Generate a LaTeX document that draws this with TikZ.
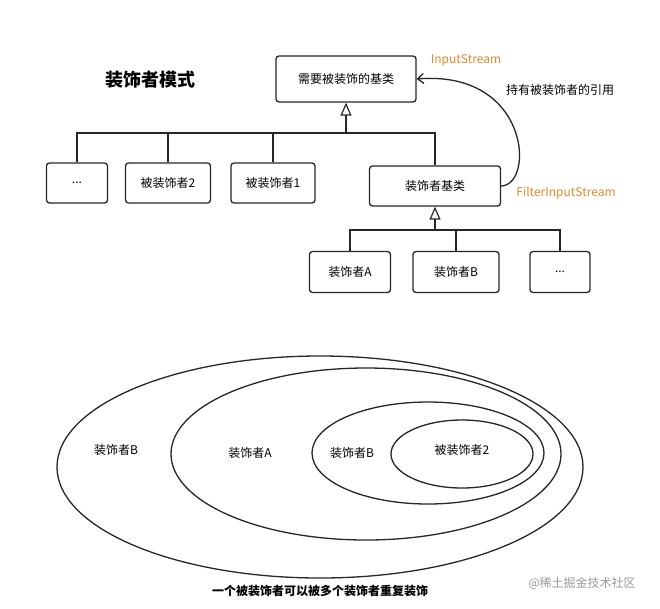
\documentclass[tikz,border=0pt]{standalone}
\usepackage{fontspec}
\setmainfont{Noto Sans CJK SC}
\usetikzlibrary{arrows.meta}
\definecolor{org}{HTML}{E08A2E}
\begin{document}
\begin{tikzpicture}[x=1pt,y=-1pt,
  bx/.style={draw=black!85,line width=1.3pt,rounded corners=3pt,font=\fontsize{12}{14}\selectfont},
  ln/.style={draw=black!85,line width=1.3pt},
  tri/.style={-{Triangle[open,length=13pt,width=11pt,line width=1.2pt]}},
  txt/.style={font=\fontsize{12}{14}\selectfont}]
\useasboundingbox (0,0) rectangle (660,608);
\node[font=\bfseries\fontsize{18}{20}\selectfont] (title) at (150,80) {装饰者模式};
\node[bx,minimum width=140pt,minimum height=46pt] (base) at (346,79) {需要被装饰的基类};
\node[txt,text=org] (is) at (466,60) {InputStream};
\node[txt] (ref) at (560,90) {持有被装饰者的引用};
\node[bx,minimum width=61pt,minimum height=40pt] (d0) at (77,183) {...};
\node[bx,minimum width=85pt,minimum height=40pt] (d2) at (168,183) {被装饰者2};
\node[bx,minimum width=84pt,minimum height=40pt] (d1) at (273,183) {被装饰者1};
\node[bx,minimum width=131pt,minimum height=40pt] (db) at (435,186) {装饰者基类};
\node[txt,text=org] (fis) at (566,193) {FilterInputStream};
\node[bx,minimum width=81pt,minimum height=41pt] (da) at (350,272) {装饰者A};
\node[bx,minimum width=86pt,minimum height=41pt] (dbb) at (456,272) {装饰者B};
\node[bx,minimum width=60pt,minimum height=41pt] (dd) at (560,272) {...};
\coordinate (j1) at (346,133);
\draw[ln] (d0.north) |- (db.north|-j1) -- (db.north);
\draw[ln] (d2.north) -- (d2.north|-j1);
\draw[ln] (d1.north) -- (d1.north|-j1);
\draw[ln,tri] (j1) -- (base.south);
\coordinate (j2) at (435,230);
\draw[ln] (da.north) |- (dd.north|-j2) -- (dd.north);
\draw[ln] (dbb.north) -- (dbb.north|-j2);
\draw[ln,tri] (j2) -- (db.south);
\draw[ln,-{Straight Barb[length=6pt,width=10pt]}] (db.east) .. controls (535,185) and (530,70) .. (base.east);
\draw[ln] (320,467) ellipse [x radius=263, y radius=111];
\draw[ln] (366,454) ellipse [x radius=195, y radius=86];
\draw[ln] (428,453) ellipse [x radius=116, y radius=51];
\draw[ln] (462,454) ellipse [x radius=71, y radius=34];
\node[txt] (e1) at (116,450) {装饰者B};
\node[txt] (e2) at (250,453) {装饰者A};
\node[txt] (e3) at (352,453) {装饰者B};
\node[txt] (e4) at (462,450) {被装饰者2};
\node[font=\bfseries\fontsize{12}{14}\selectfont] (cap) at (320,591) {一个被装饰者可以被多个装饰者重复装饰};
\node[font=\fontsize{12}{14}\selectfont,text=black!40] (wm) at (582,583) {@稀土掘金技术社区};
\end{tikzpicture}
\end{document}
